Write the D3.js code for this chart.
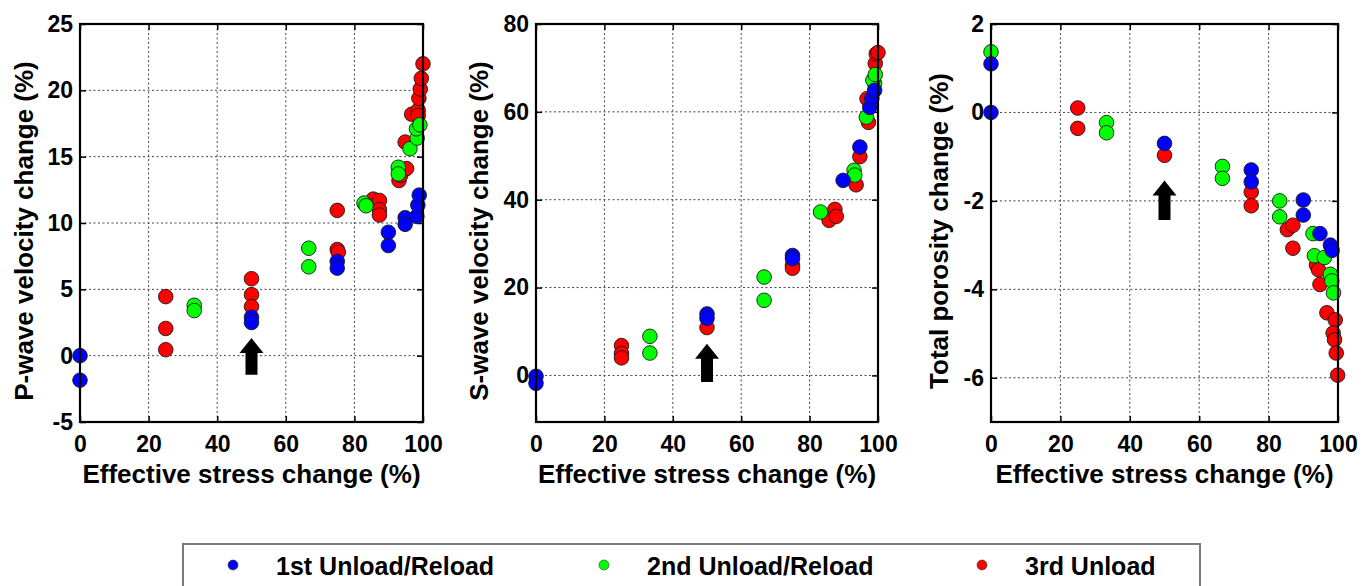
<!DOCTYPE html>
<html>
<head>
<meta charset="utf-8">
<script src="https://cdn.jsdelivr.net/npm/d3@7/dist/d3.min.js"></script>
<style>
  body { margin: 0; background: #fff; }
  svg { display: block; }
  text { font-family: "Liberation Sans", Arial, sans-serif; font-weight: bold; fill: #000; }
</style>
</head>
<body>
<svg id="fig" width="1371" height="586"></svg>
<script>
// Shared x axis: effective stress change (%)
const stressTicks = [0, 20, 40, 60, 80, 100];

// P-wave velocity change (%) vs effective stress change (%)
const pwave1st = [[0, 0], [0, -1.85], [50, 2.9], [50, 2.5], [75, 7.1], [75, 6.6],
  [89.9, 9.3], [89.9, 8.3], [94.8, 10.4], [94.8, 9.9], [98.2, 10.5], [98.5, 11.35], [98.9, 12.1]];
const pwave2nd = [[33.3, 3.8], [33.3, 3.4], [66.7, 8.1], [66.7, 6.7], [82.8, 11.5], [83.4, 11.3],
  [92.8, 14.2], [92.8, 13.7], [96.2, 15.6], [98.3, 16.4], [98.1, 17.1], [99.1, 17.4]];
const pwave3rd = [[25, 4.45], [25, 2.05], [25, 0.45], [50, 5.8], [50, 4.6], [50, 3.7],
  [75, 10.95], [75, 8.0], [75.3, 7.8], [85.5, 11.8], [87.3, 11.7], [87.3, 11.0], [87.3, 10.6],
  [93, 13.2], [93.5, 13.6], [95.2, 14.1], [94.8, 16.1], [96.7, 18.2], [98.6, 18.5], [98.6, 18.1],
  [98.8, 19.4], [99.2, 20.1], [99.5, 20.9], [100, 22.0]];
const pwaveTicks = [-5, 0, 5, 10, 15, 20, 25];

// S-wave velocity change (%)
const swave1st = [[0, -0.2], [0, -1.8], [50, 14.0], [50, 13.0], [75, 27.3], [75, 26.6],
  [89.8, 44.4], [94.7, 52.0], [97.6, 61.0], [98.2, 63.1], [99, 64.9]];
const swave2nd = [[33.3, 8.9], [33.3, 5.1], [66.7, 22.4], [66.7, 17.1], [83.2, 37.2],
  [93, 46.7], [93.2, 45.6], [96.6, 58.8], [99, 66.5], [98.5, 67.2], [99.2, 68.5]];
const swave3rd = [[25, 6.8], [25, 5.0], [25, 4.0], [50, 10.9], [75, 25.1], [75, 24.4],
  [85.7, 35.3], [87.4, 37.8], [87.8, 36.2], [93.6, 43.4], [94.7, 49.8], [97.2, 57.6],
  [96.8, 63.0], [99.2, 71.0], [99.5, 73.2], [100, 73.5]];
const swaveTicks = [0, 20, 40, 60, 80];

// Total porosity change (%)
const poro1st = [[0, 1.1], [0, 0], [50, -0.7], [75, -1.3], [75, -1.57], [90, -1.98], [90, -2.32],
  [94.8, -2.74], [97.8, -3.0], [98.3, -3.12]];
const poro2nd = [[0, 1.37], [33.3, -0.23], [33.3, -0.46], [66.7, -1.22], [66.7, -1.49],
  [83.2, -2.0], [83.2, -2.36], [92.8, -2.74], [93.2, -3.24], [96.1, -3.28], [97.8, -3.66],
  [98.2, -3.81], [98.7, -4.08]];
const poro3rd = [[25, 0.1], [25, -0.36], [50, -0.97], [75, -1.8], [75, -2.11], [85.4, -2.65],
  [87, -2.55], [87, -3.07], [93.8, -3.45], [94.4, -3.56], [94.8, -3.89], [96.8, -4.53],
  [99.2, -4.69], [98.6, -4.99], [99, -5.14], [99.5, -5.44], [99.9, -5.94]];
const poroTicks = [-6, -4, -2, 0, 2];

// Arrow annotations at 50 % stress change: tip and tail values on each y axis
const arrowTips = [1.33, 7.2, -1.54];
const arrowTails = [-1.43, -1.5, -2.43];

const seriesNames = ["1st Unload/Reload", "2nd Unload/Reload", "3rd Unload"];
const seriesColors = ["#0000ff", "#00ff00", "#ff0000"];

const svg = d3.select("#fig");
const plotTop = 24, plotBottom = 422;
// plain hyphen for negative tick labels
const tickFmt = d => String(d);

const panels = [
  { left: 80, right: 423, yDomain: [-5, 25], ticks: pwaveTicks, series: [pwave1st, pwave2nd, pwave3rd],
    title: "P-wave velocity change (%)", titleX: 33 },
  { left: 536, right: 878, yDomain: [-10.6, 80], ticks: swaveTicks, series: [swave1st, swave2nd, swave3rd],
    title: "S-wave velocity change (%)", titleX: 488 },
  { left: 991, right: 1338, yDomain: [-7, 2], ticks: poroTicks, series: [poro1st, poro2nd, poro3rd],
    title: "Total porosity change (%)", titleX: 948 }
];

panels.forEach((p, i) => {
  const x = d3.scaleLinear().domain([0, 100]).range([p.left, p.right]);
  const y = d3.scaleLinear().domain(p.yDomain).range([plotBottom, plotTop]);
  const g = svg.append("g");

  // dotted grid at interior ticks
  const grid = g.append("g").attr("stroke", "#444").attr("stroke-width", 1)
    .attr("stroke-dasharray", "2,2.5");
  grid.selectAll(".gx").data(stressTicks.filter(t => t > 0 && t < 100)).join("line")
    .attr("x1", d => x(d)).attr("x2", d => x(d)).attr("y1", plotTop).attr("y2", plotBottom);
  grid.selectAll(".gy").data(p.ticks.filter(t => y(t) > plotTop + 1 && y(t) < plotBottom - 1)).join("line")
    .attr("y1", d => y(d)).attr("y2", d => y(d)).attr("x1", p.left).attr("x2", p.right);

  // axes with inward ticks on all four sides
  const bottomAx = g.append("g").attr("transform", `translate(0,${plotBottom})`)
    .call(d3.axisBottom(x).tickValues(stressTicks).tickSize(-6).tickPadding(14).tickFormat(tickFmt));
  const topAx = g.append("g").attr("transform", `translate(0,${plotTop})`)
    .call(d3.axisTop(x).tickValues(stressTicks).tickSize(-6).tickFormat(""));
  const leftAx = g.append("g").attr("transform", `translate(${p.left},0)`)
    .call(d3.axisLeft(y).tickValues(p.ticks).tickSize(-6).tickPadding(7).tickFormat(tickFmt));
  const rightAx = g.append("g").attr("transform", `translate(${p.right},0)`)
    .call(d3.axisRight(y).tickValues(p.ticks).tickSize(-6).tickFormat(""));
  [bottomAx, topAx, leftAx, rightAx].forEach(a => {
    a.select(".domain").remove();
    a.selectAll(".tick line").attr("stroke", "#000").attr("stroke-width", 1.5);
    a.selectAll("text").attr("font-size", 23).attr("fill", "#000")
      .attr("font-family", "'Liberation Sans', Arial, sans-serif").attr("font-weight", "bold");
  });
  bottomAx.selectAll("text").attr("dy", "0.71em").attr("y", 14);

  // arrow marking the 50 % stage
  const ax = x(50), tip = y(arrowTips[i]), tail = y(arrowTails[i]);
  const headH = 15, headW = 12, shaftW = 6;
  g.append("path")
    .attr("d", `M${ax},${tip} L${ax + headW},${tip + headH} L${ax + shaftW},${tip + headH} L${ax + shaftW},${tail}
                L${ax - shaftW},${tail} L${ax - shaftW},${tip + headH} L${ax - headW},${tip + headH} Z`)
    .attr("fill", "#000");

  // markers: 3rd cycle underneath, 1st cycle on top
  [2, 1, 0].forEach(k => {
    g.append("g").selectAll("circle").data(p.series[k]).join("circle")
      .attr("cx", d => x(d[0])).attr("cy", d => y(d[1])).attr("r", 7.3)
      .attr("fill", seriesColors[k]).attr("stroke", "#1a1a1a").attr("stroke-width", 0.9);
  });

  // frame
  g.append("rect").attr("x", p.left).attr("y", plotTop)
    .attr("width", p.right - p.left).attr("height", plotBottom - plotTop)
    .attr("fill", "none").attr("stroke", "#000").attr("stroke-width", 2.2);

  // axis titles
  g.append("text").attr("x", (p.left + p.right) / 2).attr("y", 483)
    .attr("text-anchor", "middle").attr("font-size", 26).text("Effective stress change (%)");
  g.append("text").attr("transform", `translate(${p.titleX},${(plotTop + plotBottom) / 2 + 8}) rotate(-90)`)
    .attr("text-anchor", "middle").attr("font-size", 26).text(p.title);
});

// legend
const leg = svg.append("g");
leg.append("rect").attr("x", 183).attr("y", 544).attr("width", 1017).attr("height", 60)
  .attr("fill", "#fff").attr("stroke", "#7a7a7a").attr("stroke-width", 2);
const legDotX = [233, 604, 982];
seriesNames.forEach((name, k) => {
  leg.append("circle").attr("cx", legDotX[k]).attr("cy", 565).attr("r", 5)
    .attr("fill", seriesColors[k]).attr("stroke", "#333").attr("stroke-width", 0.6);
  leg.append("text").attr("x", legDotX[k] + 43).attr("y", 575).attr("font-size", 25).text(name);
});
</script>
</body>
</html>
